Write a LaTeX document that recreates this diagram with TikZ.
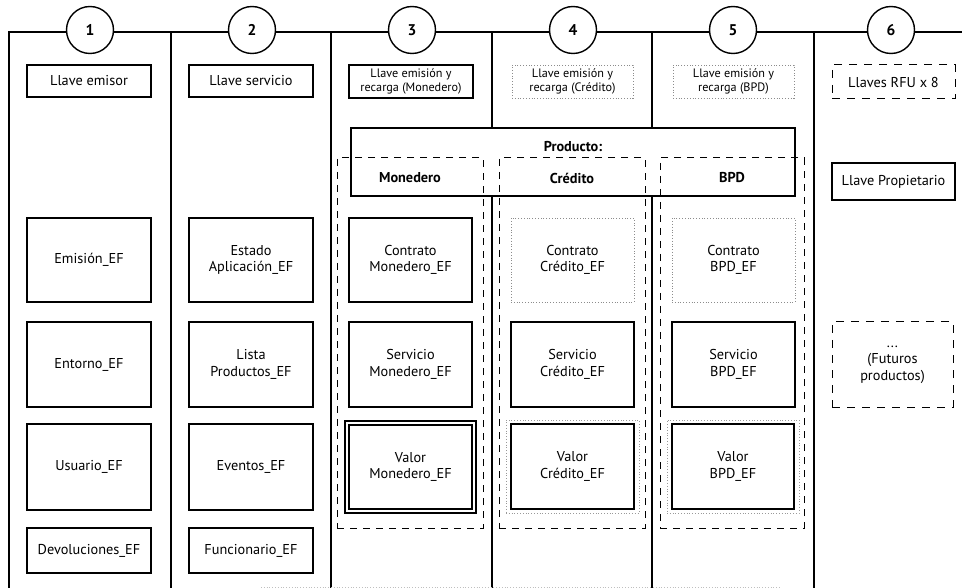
\documentclass[tikz,border=0pt]{standalone}
\usepackage{fontspec}
\setmainfont{PT Sans}
\newcommand{\mainfs}{\fontsize{14.3}{16.5}\selectfont}
\newcommand{\smallfs}{\fontsize{12.2}{13.5}\selectfont}
% \bx{name}{x1}{y1}{x2}{y2}{style}{text}
\newcommand{\bx}[7]{\node[#6, minimum width={(#4-#2)*1pt}, minimum height={(#5-#3)*1pt}] (#1) at ({(#2+#4)/2},{(#3+#5)/2}) {#7};}
\begin{document}
\begin{tikzpicture}[x=1pt,y=-1pt,
  frameline/.style={line width=1.5pt},
  solidbox/.style={draw, line width=1.3pt, fill=white, inner sep=1pt, align=center, font=\mainfs},
  keybox/.style={solidbox, font=\smallfs},
  dotbox/.style={draw=black!45, dotted, line width=0.8pt, fill=white, inner sep=1pt, align=center, font=\smallfs},
  dotframe/.style={draw=black!40, dotted, line width=0.8pt, inner sep=0pt},
  dashbox/.style={draw, dash pattern=on 8pt off 7pt, line width=1pt, inner sep=1pt, align=center, font=\mainfs},
  prodcol/.style={draw, dash pattern=on 7pt off 6pt, line width=1pt, inner sep=0pt},
  numcirc/.style={circle, draw, line width=1.4pt, fill=white, minimum size=47pt, inner sep=0pt, font=\fontsize{15.5}{17}\selectfont\bfseries},
  headtext/.style={inner sep=0pt, font=\fontsize{14.3}{16}\selectfont\bfseries}
]
\useasboundingbox (0,0) rectangle (962,588);

% frame
\coordinate (tl) at (9,32);
\coordinate (tr) at (962,32);
\draw[frameline] (9,600) -- (tl) -- (tr);
\foreach \xx in {171,331,492,652,814} {
  \draw[frameline] (\xx,32) -- (\xx,600);
}
\coordinate (bl) at (261,587);
\coordinate (br) at (781,587);
\draw[black!25, line width=0.8pt, dotted] (bl) -- (br);

% number circles
\node[numcirc] (c1) at (90,30) {1};
\node[numcirc] (c2) at (252,30) {2};
\node[numcirc] (c3) at (412,30) {3};
\node[numcirc] (c4) at (573,30) {4};
\node[numcirc] (c5) at (733,30) {5};
\node[numcirc] (c6) at (891,30) {6};

% producto box
\bx{prod}{351}{128}{795}{196}{draw, line width=1.3pt, fill=white, inner sep=0pt}{}
\node[headtext] (prodlbl) at (573,147) {Producto:};

% dashed product columns
\bx{colmon}{337}{158}{483}{528}{prodcol}{}
\bx{colcre}{499}{158}{645}{528}{prodcol}{}
\bx{colbpd}{660}{158}{804}{528}{prodcol}{}
\node[headtext] (hmon) at (410,178) {Monedero};
\node[headtext] (hcre) at (572,178) {Crédito};
\node[headtext] (hbpd) at (732,178) {BPD};

% column 1
\bx{k1}{27}{65}{151}{97}{solidbox}{Llave emisor}
\bx{emi}{27}{218}{151}{302}{solidbox}{Emisión\_EF}
\bx{ent}{27}{322}{151}{407}{solidbox}{Entorno\_EF}
\bx{usu}{27}{424}{151}{510}{solidbox}{Usuario\_EF}
\bx{dev}{27}{528}{151}{573}{solidbox}{Devoluciones\_EF}

% column 2
\bx{k2}{189}{65}{313}{97}{solidbox}{Llave servicio}
\bx{est}{189}{218}{313}{302}{solidbox}{Estado\\Aplicación\_EF}
\bx{lis}{189}{322}{313}{407}{solidbox}{Lista\\Productos\_EF}
\bx{eve}{189}{424}{313}{510}{solidbox}{Eventos\_EF}
\bx{fun}{189}{528}{313}{573}{solidbox}{Funcionario\_EF}

% column 3
\bx{k3}{349}{65}{473}{98}{keybox}{Llave emisión y\\recarga (Monedero)}
\bx{conmon}{349}{218}{472}{302}{solidbox}{Contrato\\Monedero\_EF}
\bx{sermon}{349}{322}{472}{407}{solidbox}{Servicio\\Monedero\_EF}
\bx{valmonout}{345}{421}{476}{513}{draw, line width=1.3pt, fill=white, inner sep=0pt}{}
\bx{valmon}{349}{425}{472}{509}{solidbox}{Valor\\Monedero\_EF}

% column 4
\bx{k4}{512}{65}{633}{98}{dotbox}{Llave emisión y\\recarga (Crédito)}
\bx{concre}{511}{218}{634}{302}{dotbox, font=\mainfs}{Contrato\\Crédito\_EF}
\bx{sercre}{511}{322}{634}{407}{solidbox}{Servicio\\Crédito\_EF}
\bx{valcreout}{506}{420}{639}{513}{dotframe}{}
\bx{valcre}{511}{424}{634}{509}{solidbox}{Valor\\Crédito\_EF}

% column 5
\bx{k5}{673}{65}{794}{98}{dotbox}{Llave emisión y\\recarga (BPD)}
\bx{conbpd}{672}{218}{795}{302}{dotbox, font=\mainfs}{Contrato\\BPD\_EF}
\bx{serbpd}{672}{322}{795}{407}{solidbox}{Servicio\\BPD\_EF}
\bx{valbpdout}{667}{420}{799}{513}{dotframe}{}
\bx{valbpd}{672}{424}{794}{509}{solidbox}{Valor\\BPD\_EF}

% column 6
\bx{k6}{832}{65}{955}{99}{dashbox}{Llaves RFU x 8}
\bx{prop}{832}{163}{955}{200}{solidbox, line width=1.7pt}{Llave Propietario}
\bx{fut}{832}{322}{953}{407}{dashbox}{...\\(Futuros\\productos)}
\end{tikzpicture}
\end{document}
